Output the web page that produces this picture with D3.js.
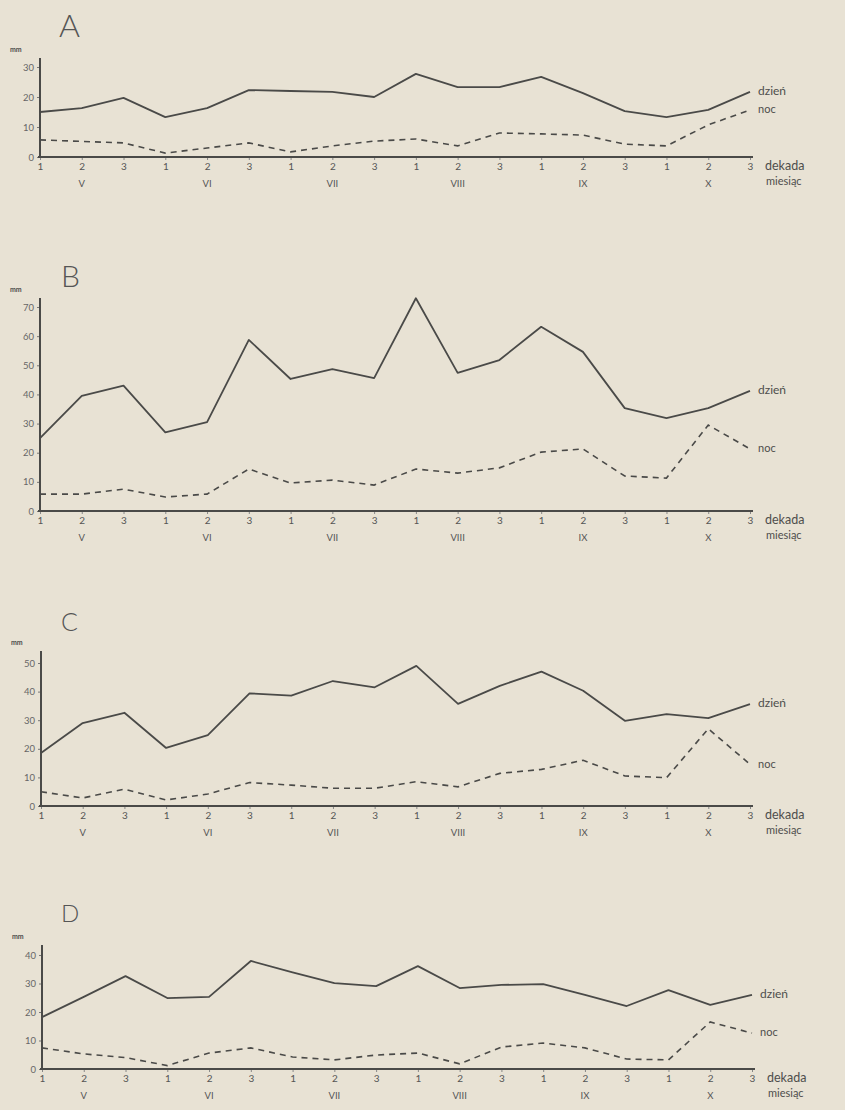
<!DOCTYPE html>
<html><head><meta charset="utf-8">
<script src="https://cdn.jsdelivr.net/npm/d3@7"></script>
<style>
html,body{margin:0;padding:0;background:#e8e2d4;}
svg{display:block;}
text{font-family:Lato,"DejaVu Sans",sans-serif;fill:#4e4e4c;}
</style></head>
<body>
<script>
// ---- data ----
const panelNames = ["A","B","C","D"];
const decades = ["1","2","3","1","2","3","1","2","3","1","2","3","1","2","3","1","2","3"];
const months = ["V","VI","VII","VIII","IX","X"];
const yTicksA = [0,10,20,30];
const yTicksB = [0,10,20,30,40,50,60,70];
const yTicksC = [0,10,20,30,40,50];
const yTicksD = [0,10,20,30,40];
const dzienA = [15,16.3,19.7,13.3,16.3,22.3,22,21.7,20,27.7,23.3,23.3,26.7,21.3,15.3,13.3,15.7,21.7];
const nocA   = [5.7,5.2,4.7,1.3,3,4.7,1.7,3.7,5.3,6,3.7,8,7.7,7.3,4.3,3.7,10.7,15.7];
const dzienB = [25,39.5,43,27,30.5,58.7,45.3,48.7,45.6,73,47.4,51.8,63.2,54.6,35.3,31.9,35.3,41.2];
const nocB   = [5.8,5.8,7.5,4.8,5.8,14.4,9.6,10.6,8.9,14.4,13,14.8,20.2,21.3,12,11.3,29.5,21.3];
const dzienC = [18.5,29,32.6,20.3,24.8,39.4,38.6,43.7,41.5,49,35.7,42,47,40.3,29.8,32.1,30.7,35.6];
const nocC   = [5,2.8,5.9,2.1,4.2,8.2,7.3,6.2,6.2,8.5,6.7,11.4,12.8,16,10.5,9.9,27,14.6];
const dzienD = [18.2,25.3,32.6,24.9,25.3,37.9,33.9,30.1,29.1,36.1,28.4,29.5,29.8,26,22.1,27.7,22.5,26];
const nocD   = [7.4,5.3,4,1.2,5.6,7.4,4.2,3.2,4.9,5.6,1.8,7.7,9.1,7.4,3.5,3.2,16.5,12.6];
const seriesLabels = ["dzień","noc"];
const axisLabels = ["dekada","miesiąc"];
const unitLabel = "mm";

// ---- layout ----
const W = 845, H = 1110;
const layout = [
  {name:panelNames[0], ticks:yTicksA, dz:dzienA, nc:nocA, y0:157, yTop:67, x0:40, x1:750, axTop:58, title:{x:59,y:37,size:32}},
  {name:panelNames[1], ticks:yTicksB, dz:dzienB, nc:nocB, y0:511, yTop:307, x0:40, x1:750, axTop:298, title:{x:61,y:287,size:30}},
  {name:panelNames[2], ticks:yTicksC, dz:dzienC, nc:nocC, y0:806, yTop:663, x0:41, x1:750, axTop:651, title:{x:61,y:631,size:25}},
  {name:panelNames[3], ticks:yTicksD, dz:dzienD, nc:nocD, y0:1069, yTop:955, x0:42, x1:752, axTop:945, title:{x:61,y:922,size:24}}
];

const svg = d3.select("body").append("svg").attr("width",W).attr("height",H);
svg.append("rect").attr("width",W).attr("height",H).attr("fill","#e8e2d4");

const ink = "#4a4a48";

layout.forEach(p => {
  const g = svg.append("g");
  const idx = d3.range(decades.length);
  const x = d3.scalePoint().domain(idx).range([p.x0, p.x1]);
  const maxT = d3.max(p.ticks);
  const y = d3.scaleLinear().domain([0, maxT]).range([p.y0, p.yTop]);

  // title
  g.append("text").attr("x",p.title.x).attr("y",p.title.y)
    .attr("font-size",p.title.size).attr("font-weight",300)
    .style("fill","#555").text(p.name);

  // unit label
  g.append("text").attr("x",p.x0-30).attr("y",p.axTop-6)
    .attr("font-size",7).attr("font-weight",700).text(unitLabel);

  // y axis
  const ya = d3.axisLeft(y).tickValues(p.ticks).tickSize(3).tickPadding(3).tickFormat(d3.format("d"));
  const yg = g.append("g").attr("transform",`translate(${p.x0},0)`).call(ya);
  yg.select(".domain").remove();
  yg.selectAll(".tick line").attr("stroke","#777");
  yg.selectAll(".tick text").attr("font-size",9.5).style("fill","#666").attr("font-family","Lato,sans-serif");
  g.append("line").attr("x1",p.x0).attr("x2",p.x0).attr("y1",p.axTop).attr("y2",p.y0+1)
    .attr("stroke",ink).attr("stroke-width",2);

  // x axis
  const xa = d3.axisBottom(x).tickSize(3).tickPadding(3).tickFormat(i => decades[i]);
  const xg = g.append("g").attr("transform",`translate(0,${p.y0})`).call(xa);
  xg.select(".domain").remove();
  xg.selectAll(".tick line").attr("stroke","#888");
  xg.selectAll(".tick text").attr("font-size",10).style("fill","#555");
  g.append("line").attr("x1",p.x0-2).attr("x2",p.x1+3).attr("y1",p.y0).attr("y2",p.y0)
    .attr("stroke",ink).attr("stroke-width",2);

  // month labels
  months.forEach((m,k) => {
    g.append("text").attr("x",x(k*3+1)).attr("y",p.y0+30)
      .attr("text-anchor","middle").attr("font-size",9.5).style("fill","#555").text(m);
  });

  // lines
  const line = d3.line().x((d,i)=>x(i)).y(d=>y(d));
  g.append("path").datum(p.dz).attr("d",line).attr("fill","none")
    .attr("stroke",ink).attr("stroke-width",1.8).attr("stroke-linejoin","round");
  g.append("path").datum(p.nc).attr("d",line).attr("fill","none")
    .attr("stroke",ink).attr("stroke-width",1.6).attr("stroke-dasharray","6,5");

  // series labels
  const lx = p.x1 + 8;
  g.append("text").attr("x",lx).attr("y",y(p.dz[p.dz.length-1])).attr("dy","0.25em")
    .attr("font-size",12).text(seriesLabels[0]);
  g.append("text").attr("x",lx).attr("y",y(p.nc[p.nc.length-1])).attr("dy","0.3em")
    .attr("font-size",11).text(seriesLabels[1]);
  g.append("text").attr("x",p.x1+15).attr("y",p.y0+13).attr("font-size",12.5).text(axisLabels[0]);
  g.append("text").attr("x",p.x1+16).attr("y",p.y0+28).attr("font-size",11).text(axisLabels[1]);
});
</script>
</body></html>
